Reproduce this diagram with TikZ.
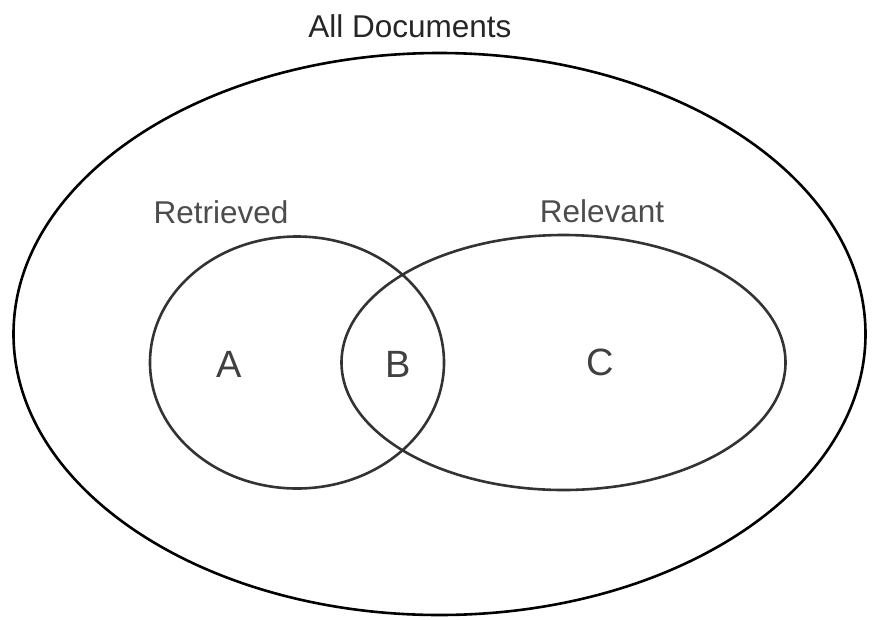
\documentclass[tikz,border=0pt]{standalone}
\usepackage{fontspec}
\setmainfont{Liberation Sans}
\begin{document}
\begin{tikzpicture}[x=1pt,y=-1pt,
  outerline/.style={draw=black,line width=2.6pt},
  innerline/.style={draw=black!80,line width=2.6pt},
  setlabel/.style={anchor=base,inner sep=0pt,text=black!70,font=\fontsize{31.5}{31.5}\selectfont},
  titlelabel/.style={anchor=base,inner sep=0pt,text=black!85,font=\fontsize{31.5}{31.5}\selectfont},
  region/.style={inner sep=0pt,text=black!75,font=\fontsize{38}{38}\selectfont}]
\useasboundingbox (0,0) rectangle (873,619);
\fill[white] (0,0) rectangle (873,619);
\draw[outerline] (439.5,334) ellipse [x radius=426, y radius=281];
\draw[innerline] (297,362.5) ellipse [x radius=147, y radius=126];
\draw[innerline] (563.5,362.5) ellipse [x radius=222, y radius=127.5];
\node[titlelabel] (all) at (410,37) {All Documents};
\node[setlabel] (ret) at (221,223) {Retrieved};
\node[setlabel] (rel) at (602,222) {Relevant};
\node[region] (A) at (229,364) {A};
\node[region] (B) at (398,364) {B};
\node[region] (C) at (600,362) {C};
\end{tikzpicture}
\end{document}
